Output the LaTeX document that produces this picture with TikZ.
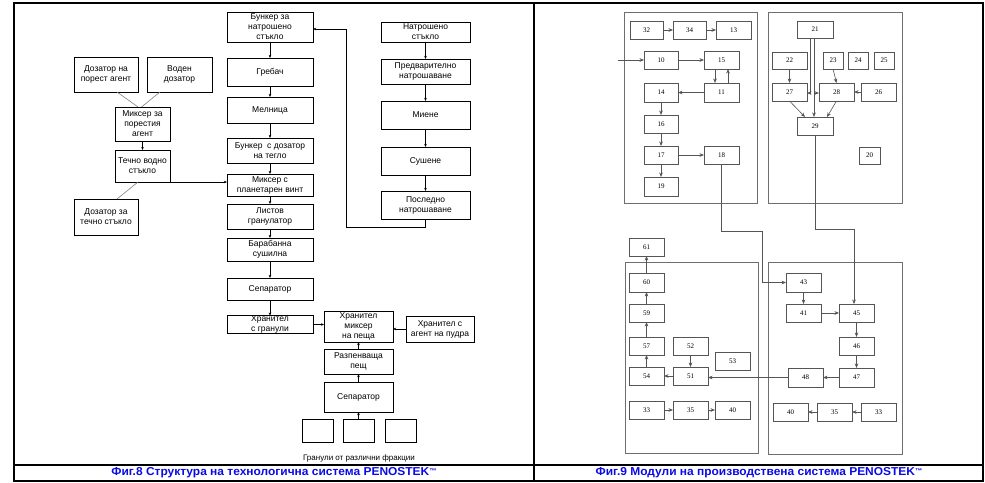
\documentclass[tikz,border=0pt]{standalone}
\usepackage{fontspec}
\setmainfont{Liberation Sans}
\newfontfamily\numfont{Liberation Serif}
\usetikzlibrary{arrows.meta}
\definecolor{capblue}{RGB}{10,10,230}
\definecolor{scan}{RGB}{85,85,85}
\tikzset{
 lbox/.style={draw, line width=1pt, inner sep=0pt, outer sep=0pt, align=center, font=\fontsize{8.5}{10}\selectfont},
 sbox/.style={draw=scan, line width=0.7pt, inner sep=0pt, outer sep=0pt, font=\numfont\fontsize{7}{8}\selectfont},
 frm/.style={draw=scan!85, line width=0.7pt, inner sep=0pt, outer sep=0pt},
 lar/.style={-{Stealth[length=3.2pt,width=2.6pt]}, line width=0.5pt},
 gline/.style={draw=gray, line width=0.6pt},
 sar/.style={-{Stealth[length=4.5pt,width=3.6pt]}, draw=scan, line width=0.6pt},
 captxt/.style={text=capblue, font=\bfseries\fontsize{11.5}{12}\selectfont},
}
\newcommand{\pb}[7][lbox]{\node[#1, minimum width={(#4)-(#2)}, minimum height={(#5)-(#3)}] (#6) at ({((#2)+(#4))/2},{((#3)+(#5))/2}) {#7};}
\begin{document}
\begin{tikzpicture}[x=1pt,y=-1pt]
\useasboundingbox (0,0) rectangle (985,482);
% outer frame
\draw[line width=2pt] (14,3) rectangle (983,481);
\draw[line width=2pt] (534,3) -- (534,481);
\draw[line width=2pt] (14,465) -- (983,465);
\node[captxt] (cap8) at (274,473) {\scalebox{1.04}[1]{Фиг.8 Структура на технологична система PENOSTEK\raisebox{0.35ex}{\scriptsize ™}}};
\node[captxt] (cap9) at (759,473) {\scalebox{1.04}[1]{Фиг.9 Модули на производствена система PENOSTEK\raisebox{0.35ex}{\scriptsize ™}}};
% ---------- left panel ----------
\pb{227}{12}{313}{42}{bunker}{Бункер за\\натрошено\\стъкло}
\pb{227}{58}{313}{86}{grebach}{Гребач}
\pb{227}{97}{313}{123}{melnica}{Мелница}
\pb{227}{138}{313}{163}{bunkdoz}{Бункер\ \ с дозатор\\на тегло}
\pb{227}{174}{313}{196}{mixplan}{Миксер с\\планетарен винт}
\pb{227}{204}{313}{229}{listov}{Листов\\гранулатор}
\pb{227}{238}{313}{261}{baraban}{Барабанна\\сушилна}
\pb{227}{278}{313}{300}{separ1}{Сепаратор}
\pb{227}{316}{313}{333}{hrangr}{Хранител\\с гранули}
\pb{324}{311}{393}{342}{hranmix}{Хранител\\миксер\\на пеща}
\pb{406}{316}{474}{342}{hranag}{Хранител с\\агент на пудра}
\pb{324}{349}{393}{374}{razpen}{Разпенваща\\пещ}
\pb{324}{382}{393}{412}{separ2}{Сепаратор}
\pb{302}{419}{333}{442}{fr1}{}
\pb{343}{419}{374}{442}{fr2}{}
\pb{385}{419}{416}{442}{fr3}{}
\node[font=\fontsize{8}{9}\selectfont] (granlbl) at (359,458) {Гранули от различни фракции};
\pb{74}{57}{138}{92}{dozpor}{Дозатор на\\порест агент}
\pb{147}{57}{212}{92}{voden}{Воден\\дозатор}
\pb{115}{107}{170}{141}{mixpor}{Миксер за\\порестия\\агент}
\pb{115}{150}{170}{182}{techno}{Течно водно\\стъкло}
\pb{74}{199}{138}{235}{doztech}{Дозатор за\\течно стъкло}
\pb{381}{22}{470}{42}{natr}{Натрошено\\стъкло}
\pb{381}{59}{470}{84}{predv}{Предварително\\натрошаване}
\pb{381}{101}{470}{129}{miene}{Миене}
\pb{381}{147}{470}{175}{sushene}{Сушене}
\pb{381}{191}{470}{219}{posl}{Последно\\натрошаване}
% left connectors
\foreach \a/\b in {bunker/grebach, grebach/melnica, melnica/bunkdoz, bunkdoz/mixplan, mixplan/listov, listov/baraban, baraban/separ1, separ1/hrangr, natr/predv, predv/miene, miene/sushene, sushene/posl, mixpor/techno}
  \draw[lar] (\a.south) -- (\b.north);
\draw[lar] (hrangr.east) -- (hrangr.east -| hranmix.west);
\draw[lar] (hranag.west) -- (hranag.west -| hranmix.east);
\draw[lar] (razpen.north) -- (hranmix.south);
\draw[lar] (separ2.north) -- (razpen.south);
\draw[lar] (fr2.north) -- (separ2.south);
\draw[gline] ([xshift=11pt]dozpor.south) -- ([xshift=-4.5pt]mixpor.north);
\draw[gline] ([xshift=-19.5pt]voden.south) -- ([xshift=-1pt]mixpor.north);
\draw[gline] ([xshift=11pt]doztech.north) -- ([xshift=-4.5pt]techno.south);
\draw[lar] (techno.south east) -- (techno.south east -| mixplan.west);
\coordinate (r1) at (346,227);
\coordinate (r2) at (346,29);
\draw[lar] (posl.south) |- (r1) -- (r2) -- (r2 -| bunker.east);
% ---------- right panel ----------
\pb[frm]{624}{12}{757}{203}{m1}{}
\pb[frm]{768}{12}{902}{203}{m2}{}
\pb[frm]{625}{262}{758}{453}{m3}{}
\pb[frm]{768}{262}{902}{454}{m4}{}
% module 1
\pb[sbox]{630}{21}{663}{39}{b32}{32}
\pb[sbox]{673}{21}{706}{39}{b34}{34}
\pb[sbox]{716}{21}{751}{39}{b13}{13}
\pb[sbox]{644}{51}{678}{69}{b10}{10}
\pb[sbox]{704}{51}{739}{69}{b15}{15}
\pb[sbox]{644}{83}{678}{102}{b14}{14}
\pb[sbox]{704}{83}{739}{102}{b11}{11}
\pb[sbox]{644}{115}{678}{133}{b16}{16}
\pb[sbox]{644}{146}{678}{164}{b17}{17}
\pb[sbox]{704}{146}{739}{164}{b18}{18}
\pb[sbox]{644}{177}{678}{196}{b19}{19}
% module 2
\pb[sbox]{797}{21}{833}{38}{b21}{21}
\pb[sbox]{772}{52}{807}{69}{b22}{22}
\pb[sbox]{823}{52}{843}{69}{b23}{23}
\pb[sbox]{848}{52}{868}{69}{b24}{24}
\pb[sbox]{874}{52}{894}{69}{b25}{25}
\pb[sbox]{772}{83}{807}{101}{b27}{27}
\pb[sbox]{819}{83}{854}{101}{b28}{28}
\pb[sbox]{861}{83}{896}{101}{b26}{26}
\pb[sbox]{797}{117}{833}{135}{b29}{29}
\pb[sbox]{859}{147}{880}{164}{b20}{20}
% module 3
\pb[sbox]{629}{238}{664}{256}{b61}{61}
\pb[sbox]{629}{273}{664}{292}{b60}{60}
\pb[sbox]{629}{304}{664}{322}{b59}{59}
\pb[sbox]{629}{337}{664}{355}{b57}{57}
\pb[sbox]{629}{367}{664}{385}{b54}{54}
\pb[sbox]{673}{337}{708}{355}{b52}{52}
\pb[sbox]{673}{367}{708}{385}{b51}{51}
\pb[sbox]{715}{352}{750}{370}{b53}{53}
\pb[sbox]{629}{401}{664}{419}{c33}{33}
\pb[sbox]{673}{401}{708}{419}{c35}{35}
\pb[sbox]{715}{401}{750}{419}{c40}{40}
% module 4
\pb[sbox]{786}{273}{821}{292}{b43}{43}
\pb[sbox]{786}{304}{821}{322}{b41}{41}
\pb[sbox]{839}{304}{874}{322}{b45}{45}
\pb[sbox]{839}{337}{874}{355}{b46}{46}
\pb[sbox]{839}{368}{874}{387}{b47}{47}
\pb[sbox]{788}{368}{823}{387}{b48}{48}
\pb[sbox]{773}{403}{808}{421}{d40}{40}
\pb[sbox]{817}{403}{852}{421}{d35}{35}
\pb[sbox]{861}{403}{896}{421}{d33}{33}
% right connectors
\foreach \a/\b in {b32/b34, b34/b13, b10/b15, b17/b18, c33/c35, c35/c40, b41/b45}
  \draw[sar] (\a.east) -- (\b.west);
\foreach \a/\b in {b11/b14, b51/b54, b47/b48, d33/d35, d35/d40, b26/b28}
  \draw[sar] (\a.west) -- (\b.east);
\foreach \a/\b in {b14/b16, b16/b17, b17/b19, b52/b51, b43/b41, b45/b46, b46/b47, b22/b27, b23/b28}
  \draw[sar] (\a.south) -- (\b.north);
\foreach \a/\b in {b60/b61, b59/b60, b57/b59, b54/b57}
  \draw[sar] (\a.north) -- (\b.south);
\coordinate (in10) at (618,60);
\draw[sar] (in10) -- (b10.west);
\coordinate (x715) at (715,0);
\coordinate (x728) at (728,0);
\draw[sar] (b15.south -| x715) -- (b11.north -| x715);
\draw[sar] (b11.north -| x728) -- (b15.south -| x728);
\draw[sar] (b48.west) -- (b48.west -| b51.east);
\coordinate (j1) at (810,93);
\coordinate (j2) at (814,93);
\draw[sar] (b21.south -| j1) -- (j1) -- (j1 -| b27.east);
\draw[sar] (b21.south -| j2) -- (b29.north -| j2);
\draw[sar] (j2) -- (j2 -| b28.west);
\draw[sar] (b27.south) -- ([xshift=-10pt]b29.north);
\draw[sar] (b28.south) -- ([xshift=12pt]b29.north);
\coordinate (p1) at (762,231);
\draw[sar] (b18.south) |- (p1) |- (b43.west);
\coordinate (p2) at (854,229);
\draw[sar] (b29.south) |- (p2) -- (p2 |- b45.north);
\end{tikzpicture}
\end{document}
